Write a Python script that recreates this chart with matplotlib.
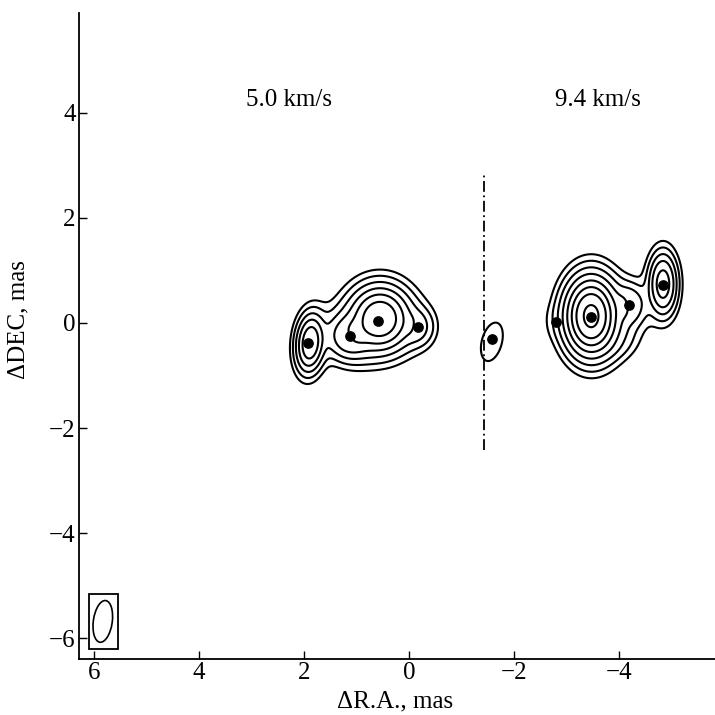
import numpy as np
import matplotlib.pyplot as plt
from matplotlib.patches import Ellipse, Rectangle

plt.rcParams['font.family'] = ['Liberation Serif', 'DejaVu Serif']

# maser spots (mas)
spot_x = [1.92, 1.12, 0.59, -0.17, -1.58, -2.80, -3.47, -4.19, -4.84]
spot_y = [-0.38, -0.25, 0.04, -0.08, -0.30, 0.02, 0.11, 0.34, 0.72]

# brightness components: x0, y0, peak, scale x, scale y, angle (deg)
comp_x = [1.88, 0.55, 1.12, -0.17, -1.58, -3.47, -4.84, -4.19, -2.80, -3.90]
comp_y = [-0.38, 0.08, -0.25, -0.08, -0.36, 0.13, 0.74, 0.34, 0.02, -0.30]
comp_amp = [24, 51, 12, 4, 1.5, 145, 20, 6, 0.5, 2]
comp_sx = [0.08, 0.16, 0.15, 0.12, 0.107, 0.12, 0.082, 0.12, 0.12, 0.18]
comp_sy = [0.165, 0.17, 0.15, 0.14, 0.21, 0.18, 0.18, 0.15, 0.15, 0.15]
comp_ang = [5, 0, 0, 0, 15, 0, 0, 0, 0, 0]
levels = [1, 2, 4, 8, 16, 32, 64, 128]

# beam
beam_x, beam_y = 5.83, -5.68
beam_w, beam_h, beam_ang = 0.36, 0.80, 8

# velocity labels
vel_text = ["5.0 km/s", "9.4 km/s"]
vel_x = [2.29, -3.60]
vel_y = [4.25, 4.25]

sep_x = -1.43
sep_y = [-2.42, 2.86]

x = np.linspace(-6.0, 6.5, 1251)
y = np.linspace(-2.0, 2.5, 451)
X, Y = np.meshgrid(x, y)
Z = np.zeros_like(X)
u0, w = 1.56, 0.4
for x0, y0, a, sx, sy, ang in zip(comp_x, comp_y, comp_amp, comp_sx, comp_sy, comp_ang):
    t = np.radians(ang)
    dx, dy = X - x0, Y - y0
    xp = dx * np.cos(t) + dy * np.sin(t)
    yp = -dx * np.sin(t) + dy * np.cos(t)
    u = np.hypot(xp / sx, yp / sy)
    # flat core, exponential wings
    Z += a * np.exp(-w * np.logaddexp(0, (u - u0) / w))

fig = plt.figure(figsize=(7.15, 7.15), dpi=100)
ax = fig.add_axes([0.110, 0.078, 0.890, 0.904])

ax.contour(X, Y, Z, levels=levels, colors='black', linewidths=1.5)
ax.scatter(spot_x, spot_y, s=45, color='black', zorder=3)

ax.plot([sep_x, sep_x], sep_y, color='black', lw=1.3, ls=(0, (6, 2, 1, 2)))

ax.add_patch(Rectangle((6.10, -6.21), -0.56, 1.05, fill=False, ec='black', lw=1.3))
ax.add_patch(Ellipse((beam_x, beam_y), beam_w, beam_h, angle=beam_ang,
                     fill=False, ec='black', lw=1.2))

for t, tx, ty in zip(vel_text, vel_x, vel_y):
    ax.text(tx, ty, t, ha='center', va='center', fontsize=18)

ax.set_xlim(6.29, -5.83)
ax.set_ylim(-6.4, 5.9)
ax.set_xticks([6, 4, 2, 0, -2, -4])
ax.set_xticklabels(['6', '4', '2', '0', '\u22122', '\u22124'])
ax.set_yticks([-6, -4, -2, 0, 2, 4])
ax.set_yticklabels(['\u22126', '\u22124', '\u22122', '0', '2', '4'])
ax.spines['top'].set_visible(False)
ax.spines['right'].set_visible(False)
ax.spines['left'].set_linewidth(1.3)
ax.spines['bottom'].set_linewidth(1.3)
ax.tick_params(direction='in', length=6, width=1, labelsize=18, pad=2)
ax.set_xlabel('\u0394R.A., mas', fontsize=18)
ax.set_ylabel('\u0394DEC, mas', fontsize=18)
ax.xaxis.set_label_coords(0.497, -0.049)
ax.yaxis.set_label_coords(-0.077, 0.525)

fig.savefig('out.png', dpi=100)
